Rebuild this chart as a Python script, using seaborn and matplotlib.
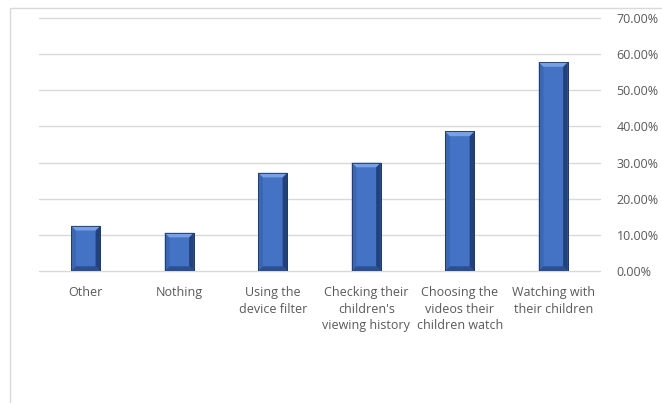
import matplotlib
matplotlib.use("Agg")
import matplotlib.pyplot as plt
import seaborn as sns
import pandas as pd
from matplotlib.patches import Polygon, Rectangle
from matplotlib.ticker import FuncFormatter

categories = ["Other", "Nothing", "Using the\ndevice filter",
              "Checking their\nchildren's\nviewing history",
              "Choosing the\nvideos their\nchildren watch",
              "Watching with\ntheir children"]
values = [12.5, 10.6, 27.2, 30.0, 38.6, 57.8]
yticks = [0, 10, 20, 30, 40, 50, 60, 70]

df = pd.DataFrame({"cat": categories, "val": values})

sns.set_theme(style="white")
plt.rcParams['font.family'] = ['Open Sans', 'DejaVu Sans']

fig = plt.figure(figsize=(6.62, 4.03), dpi=100)
ax = fig.add_axes([39/662, 1-271/403, (600-39)/662, (271-18)/403])

sns.barplot(data=df, x="cat", y="val", ax=ax, color="#4472C4",
            width=0.31, edgecolor="#1f3864", linewidth=0.6, saturation=1)

# bevel shading
for p in list(ax.patches):
    x, y, w, h = p.get_x(), p.get_y(), p.get_width(), p.get_height()
    dx = w * 0.16
    dy = 1.3
    top = y + h
    ax.add_patch(Polygon([[x, y], [x, top], [x+dx, top-dy], [x+dx, y+dy]],
                         closed=True, fc="#3a66b6", ec="none", zorder=3))
    ax.add_patch(Polygon([[x+w, y], [x+w, top], [x+w-dx, top-dy], [x+w-dx, y+dy]],
                         closed=True, fc="#22427c", ec="none", zorder=3))
    ax.add_patch(Polygon([[x, top], [x+w, top], [x+w-dx, top-dy], [x+dx, top-dy]],
                         closed=True, fc="#78a0e4", ec="none", zorder=3))
    ax.add_patch(Polygon([[x, y], [x+w, y], [x+w-dx, y+dy], [x+dx, y+dy]],
                         closed=True, fc="#2b4f92", ec="none", zorder=3))
    ax.add_patch(Rectangle((x, y), w, h, fc="none", ec="#1f3864", lw=0.6, zorder=4))

ax.set_ylim(0, 70)
ax.set_yticks(yticks)
ax.yaxis.tick_right()
ax.yaxis.set_major_formatter(FuncFormatter(lambda v, _: f"{v:.2f}%"))
ax.grid(axis="y", color="#d9d9d9", linewidth=1)
ax.set_axisbelow(True)
for l in ax.get_ygridlines():
    l.set_clip_on(False)
for s in ax.spines.values():
    s.set_visible(False)
ax.set_xlabel("")
ax.set_ylabel("")
ax.set_xlim(-0.5, 5.5)
ax.tick_params(axis="both", length=0, colors="#595959", labelsize=9)
ax.tick_params(axis="x", pad=11)
ax.tick_params(axis="y", pad=12)
for lab in ax.get_xticklabels():
    lab.set_linespacing(1.35)

# chart border
fig.add_artist(Rectangle((10/662, -0.1), 1.2, 1 - 8/403 + 0.1, transform=fig.transFigure,
                         fill=False, ec="#d9d9d9", lw=1))

fig.savefig("out.png", dpi=100)
